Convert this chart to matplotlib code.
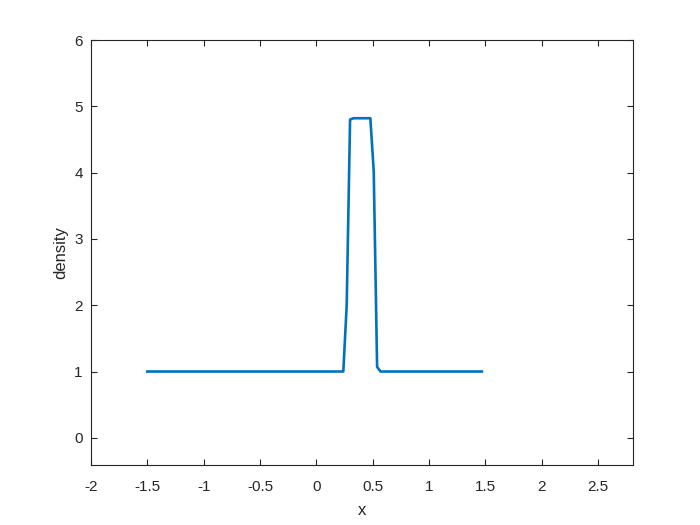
import matplotlib
matplotlib.use('Agg')
import matplotlib.pyplot as plt

# density curve
x = [-1.5, 0.24, 0.27, 0.30, 0.33, 0.48, 0.51, 0.54, 0.57, 1.47]
density = [1.0, 1.0, 2.0, 4.80, 4.82, 4.82, 4.02, 1.07, 1.0, 1.0]

xticks = [-2, -1.5, -1, -0.5, 0, 0.5, 1, 1.5, 2, 2.5]
xticklabels = ['-2', '-1.5', '-1', '-0.5', '0', '0.5', '1', '1.5', '2', '2.5']
yticks = [0, 1, 2, 3, 4, 5, 6]

plt.rcParams['font.family'] = ['Liberation Sans', 'DejaVu Sans']
plt.rcParams['axes.unicode_minus'] = False

fig = plt.figure(figsize=(7, 5.25), dpi=100)
ax = fig.add_axes([0.13, 0.1143, 0.774, 0.8095])

ax.plot(x, density, color='#0072BD', linewidth=1.9)

ax.set_xlim(-2, 2.81)
ax.set_ylim(-0.41, 6)
ax.set_xticks(xticks)
ax.set_xticklabels(xticklabels)
ax.set_yticks(yticks)

axis_color = '#262626'
for s in ax.spines.values():
    s.set_color(axis_color)
    s.set_linewidth(0.8)
ax.tick_params(direction='in', length=4, width=0.8, top=True, right=True,
               colors=axis_color, labelsize=11, pad=6)
ax.tick_params(axis='x', pad=11)
ax.set_xlabel('x', fontsize=12, color=axis_color, labelpad=6)
ax.set_ylabel('density', fontsize=12, color=axis_color)

fig.savefig('out.png', dpi=100)
